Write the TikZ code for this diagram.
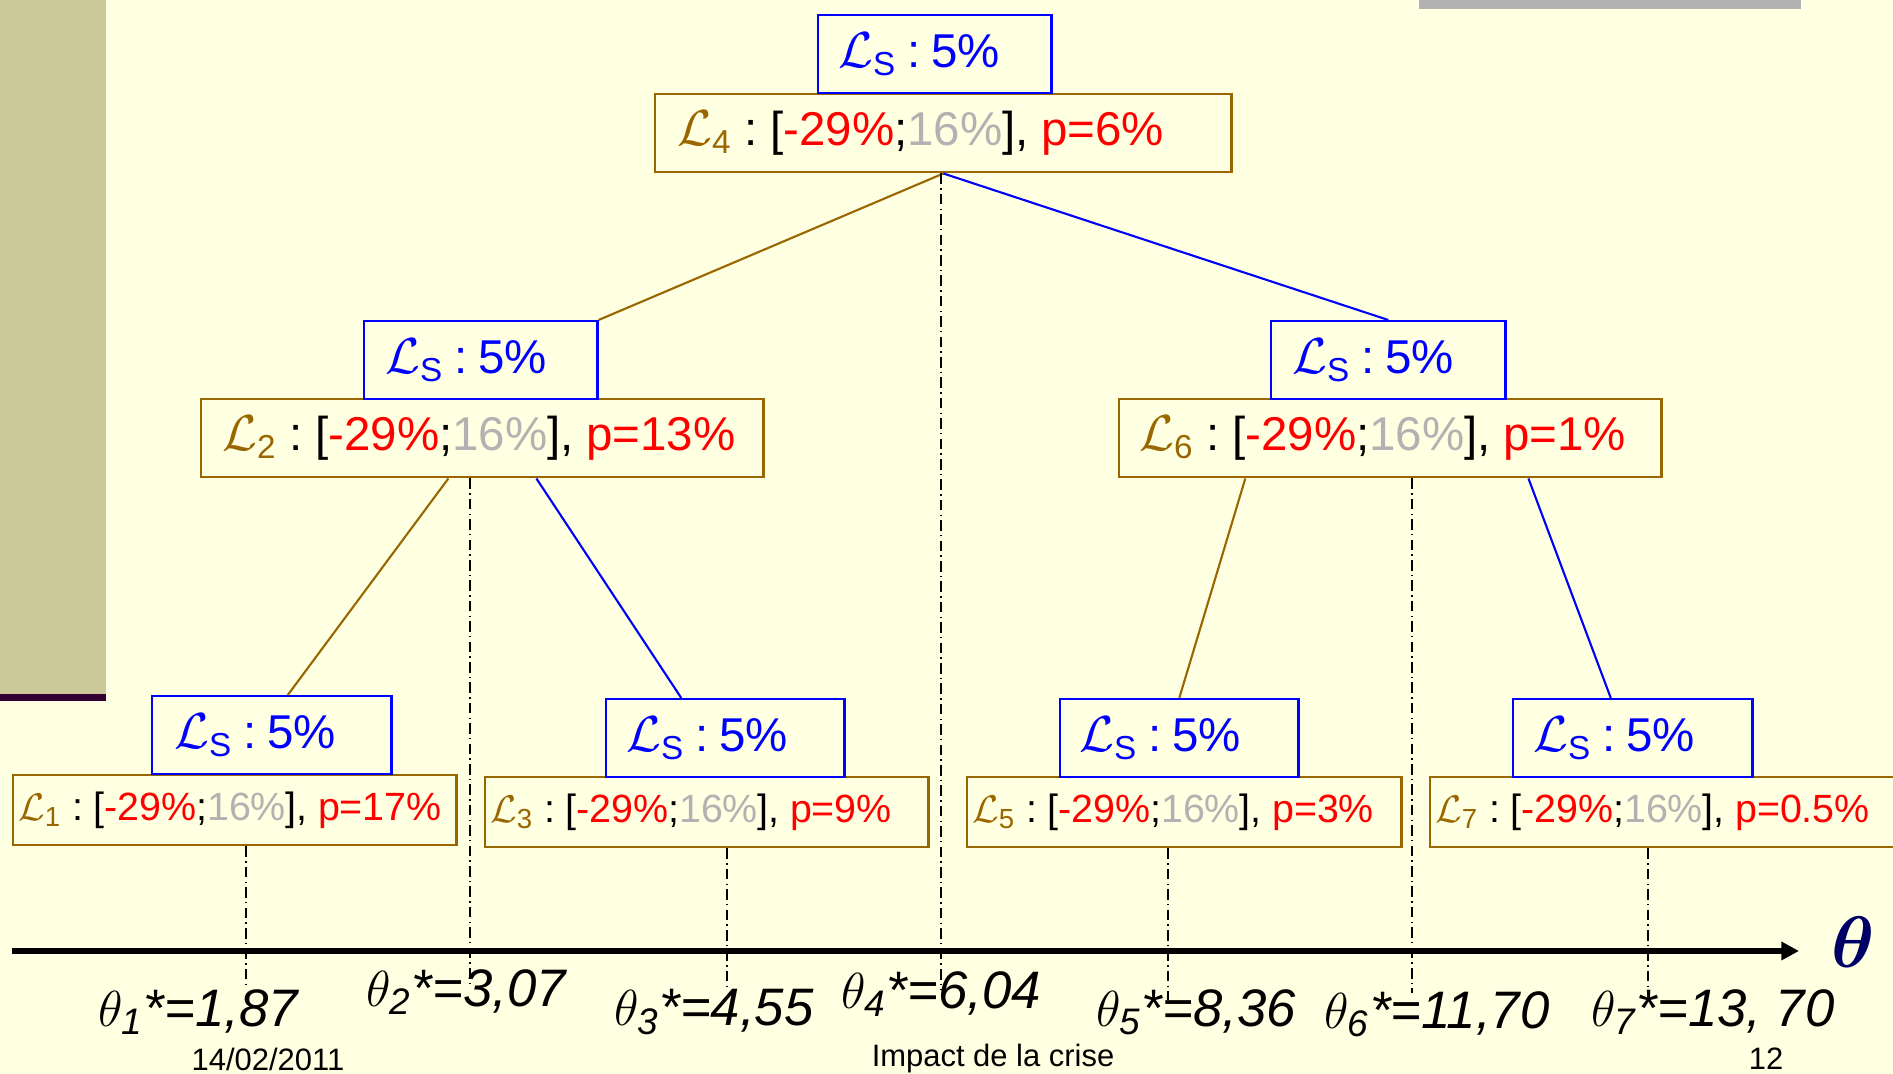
\documentclass[tikz,border=0pt]{standalone}
\usepackage{amsmath,amssymb,bm}
\usepackage{fontspec}
\setmainfont{Liberation Sans}
\usetikzlibrary{arrows.meta}
\definecolor{bgyellow}{HTML}{FFFFE1}
\definecolor{sideolive}{HTML}{CCCA99}
\definecolor{sideplum}{HTML}{330033}
\definecolor{bargrey}{HTML}{B2B2B2}
\definecolor{lsblue}{HTML}{0000FF}
\definecolor{lbrown}{HTML}{996600}
\definecolor{lred}{HTML}{FF0000}
\definecolor{lgrey}{HTML}{B2B2B2}
\definecolor{thetanavy}{HTML}{000066}
\newcommand{\lsafe}{\mbox{$\mathcal{L}_{\text{S}}$\hspace{0.22em}:\hspace{0.22em}5\%}}
\newcommand{\lrisk}[2]{\mbox{\textcolor{lbrown}{$\mathcal{L}_{\text{#1}}$}\hspace{0.26em}:\hspace{0.26em}[\textcolor{lred}{-29\%};\textcolor{lgrey}{16\%}],\hspace{0.26em}\textcolor{lred}{p=#2\%}}}
\newcommand{\thstar}[2]{$\theta_{\mathit{#1}}$\textit{*=#2}}

\begin{document}
\begin{tikzpicture}[x=0.01cm, y=-0.01cm,
	every node/.style={inner sep=0pt},
	safebox/.style={draw=lsblue, line width=0.7pt, fill=bgyellow, text=lsblue, anchor=north west, minimum height=0.78cm, align=left, font=\fontsize{13.5}{16}\selectfont},
	riskbox/.style={draw=lbrown, line width=0.7pt, fill=bgyellow, anchor=north west, minimum height=0.78cm, align=left, font=\fontsize{13.5}{16}\selectfont},
	leafbox/.style={riskbox, minimum height=0.70cm, font=\fontsize{11.2}{13}\selectfont},
	brownlink/.style={lbrown, line width=0.6pt},
	bluelink/.style={lsblue, line width=0.6pt},
	cut/.style={line width=0.45pt, dash pattern=on 3pt off 1.2pt on 0.4pt off 1.2pt},
	thetalabel/.style={font=\fontsize{15}{18}\selectfont}]
	\useasboundingbox (0,0) rectangle (1893,1074);
	\clip (0,0) rectangle (1893,1074);
	\fill[bgyellow] (0,0) rectangle (1893,1074);
	\fill[sideolive] (0,0) rectangle (106,694);
	\fill[sideplum] (0,694) rectangle (106,701);
	\fill[bargrey] (1419,0) rectangle (1801,9);

	\node[riskbox, inner xsep=0.22cm, text width=5.32cm] (Lfour) at (654,93) {\lrisk{4}{6}};
	\node[safebox, inner xsep=0.20cm, text width=1.93cm] (Sfour) at (817,14) {\lsafe};
	\node[riskbox, inner xsep=0.21cm, text width=5.20cm] (Ltwo) at (200,398) {\lrisk{2}{13}};
	\node[safebox, inner xsep=0.21cm, text width=1.91cm] (Stwo) at (363,320) {\lsafe};
	\node[riskbox, inner xsep=0.20cm, text width=5.02cm] (Lsix) at (1118,398) {\lrisk{6}{1}};
	\node[safebox, inner xsep=0.21cm, text width=1.92cm] (Ssix) at (1270,320) {\lsafe};
	\node[leafbox, inner xsep=0.05cm, text width=4.33cm] (Lone) at (12,774) {\lrisk{1}{17}};
	\node[safebox, inner xsep=0.22cm, text width=1.95cm] (Sone) at (151,695) {\lsafe};
	\node[leafbox, inner xsep=0.05cm, text width=4.33cm] (Lthree) at (484,776) {\lrisk{3}{9}};
	\node[safebox, inner xsep=0.20cm, text width=1.98cm] (Sthree) at (605,698) {\lsafe};
	\node[leafbox, inner xsep=0.05cm, text width=4.24cm] (Lfive) at (966,776) {\lrisk{5}{3}};
	\node[safebox, inner xsep=0.19cm, text width=2.00cm] (Sfive) at (1059,698) {\lsafe};
	\node[leafbox, inner xsep=0.05cm, text width=4.71cm] (Lseven) at (1429,776) {\lrisk{7}{0.5}};
	\node[safebox, inner xsep=0.20cm, text width=1.99cm] (Sseven) at (1512,698) {\lsafe};

	\draw[brownlink] (Lfour.south) -- (Stwo.north east);
	\draw[bluelink] (Lfour.south) -- (Ssix.north);
	\draw[brownlink] ([xshift=-0.34cm]Ltwo.south) -- ([xshift=0.16cm]Sone.north);
	\draw[bluelink] ([xshift=0.54cm]Ltwo.south) -- ([xshift=-0.44cm]Sthree.north);
	\draw[brownlink] ([xshift=-1.45cm]Lsix.south) -- (Sfive.north);
	\draw[bluelink] ([xshift=1.38cm]Lsix.south) -- ([xshift=-0.22cm]Sseven.north);

	\coordinate (t1) at (246,988);
	\coordinate (t2) at (470,985);
	\coordinate (t3) at (727,990);
	\coordinate (t4) at (941,990);
	\coordinate (t5) at (1168,1000);
	\coordinate (t6) at (1412,993);
	\coordinate (t7) at (1648,988);
	\draw[cut] (Lone.south -| t1) -- (t1);
	\draw[cut] (Ltwo.south -| t2) -- (t2);
	\draw[cut] (Lthree.south -| t3) -- (t3);
	\draw[cut] (Lfour.south -| t4) -- (t4);
	\draw[cut] (Lfive.south -| t5) -- (t5);
	\draw[cut] (Lsix.south -| t6) -- (t6);
	\draw[cut] (Lseven.south -| t7) -- (t7);

	\coordinate (axstart) at (12,951);
	\coordinate (axend) at (1799,951);
	\draw[line width=1.8pt, -{Triangle[length=5pt, width=5pt]}] (axstart) -- (axend);
	\node[text=thetanavy, font=\fontsize{20}{24}\selectfont] (thaxis) at (1853,942) {$\bm{\theta}$};

	\node[thetalabel] (th1) at (199,1012) {\thstar{1}{1,87}};
	\node[thetalabel] (th2) at (467,992) {\thstar{2}{3,07}};
	\node[thetalabel] (th3) at (714,1012) {\thstar{3}{4,55}};
	\node[thetalabel] (th4) at (941,994) {\thstar{4}{6,04}};
	\node[thetalabel] (th5) at (1196,1012) {\thstar{5}{8,36}};
	\node[thetalabel] (th6) at (1437,1014) {\thstar{6}{11,70}};
	\node[thetalabel] (th7) at (1713,1012) {\thstar{7}{13, 70}};

	\node[font=\fontsize{8.8}{10}\selectfont] (fdate) at (268,1059) {14/02/2011};
	\node[font=\fontsize{8.8}{10}\selectfont] (ftitle) at (993,1059) {Impact de la crise};
	\node[font=\fontsize{8.8}{10}\selectfont] (fpage) at (1766,1059) {12};
\end{tikzpicture}
\end{document}
